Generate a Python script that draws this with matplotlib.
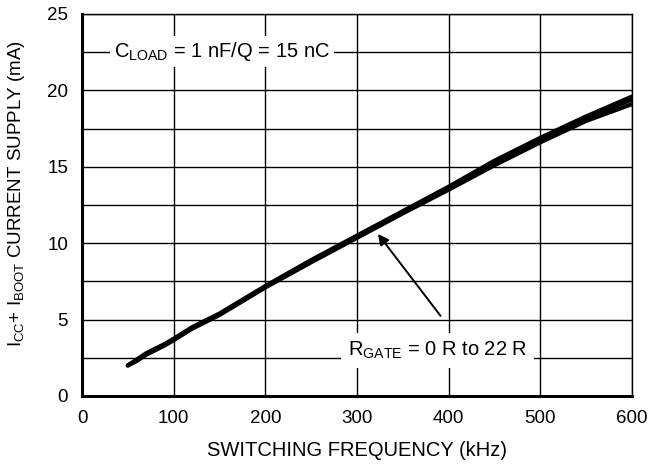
import matplotlib
matplotlib.use("Agg")
import matplotlib.pyplot as plt

plt.rcParams['font.family'] = ['Liberation Sans', 'DejaVu Sans']
plt.rcParams['mathtext.fontset'] = 'custom'
plt.rcParams['mathtext.rm'] = 'Liberation Sans'
plt.rcParams['mathtext.it'] = 'Liberation Sans'

freq = [50, 60, 70, 80, 90, 100, 120, 150, 200, 250, 300, 350, 400, 450, 500, 550, 600]
r0 = [2.0, 2.4, 2.8, 3.1, 3.4, 3.75, 4.5, 5.4, 7.2, 8.9, 10.5, 12.1, 13.7, 15.4, 16.9, 18.3, 19.6]
r10 = [2.0, 2.35, 2.75, 3.05, 3.35, 3.7, 4.45, 5.35, 7.15, 8.8, 10.45, 12.0, 13.6, 15.2, 16.7, 18.2, 19.4]
r22 = [2.0, 2.3, 2.7, 3.0, 3.3, 3.65, 4.4, 5.3, 7.1, 8.75, 10.35, 11.95, 13.5, 15.1, 16.6, 18.0, 19.1]

xticks = [0, 100, 200, 300, 400, 500, 600]
yticks = [0, 5, 10, 15, 20, 25]

fig = plt.figure(figsize=(6.51, 4.70), dpi=100)
ax = fig.add_axes([82/651, 1-396/470, 550/651, 382/470])

for s in (r0, r10, r22):
    ax.plot(freq, s, color='black', lw=3.0, solid_capstyle='round', zorder=3)

ax.set_xlim(0, 600)
ax.set_ylim(0, 25)
ax.set_xticks(xticks)
ax.set_yticks(yticks)
ax.set_yticks([2.5, 7.5, 12.5, 17.5, 22.5], minor=True)
ax.grid(True, which='both', color='black', lw=1.0)
ax.tick_params(length=0, which='both', labelsize=13.5, pad=10)

for side in ('left', 'bottom'):
    ax.spines[side].set_linewidth(2.2)
for side in ('top', 'right'):
    ax.spines[side].set_linewidth(1.0)

ax.set_xlabel('SWITCHING FREQUENCY (kHz)', fontsize=14.5)
ax.set_ylabel(r'I$_{\mathrm{CC}}$+ I$_{\mathrm{BOOT}}$ CURRENT SUPPLY (mA)', fontsize=13.5)
ax.xaxis.set_label_coords(0.5, -45/382)
ax.yaxis.set_label_coords(-55/550, 0.53)

ax.text(153, 22.55, r'C$_{\mathrm{LOAD}}$ = 1 nF/Q = 15 nC', fontsize=14.5, ha='center', va='center',
        bbox=dict(facecolor='white', edgecolor='none', pad=3), zorder=4)
ax.text(388, 3.0, r'R$_{\mathrm{GATE}}$ = 0 R to 22 R', fontsize=14.5, ha='center', va='center',
        bbox=dict(facecolor='white', edgecolor='none', pad=5), zorder=4)
ax.annotate('', xy=(321, 10.75), xytext=(393, 5.1),
            arrowprops=dict(arrowstyle='-|>', color='black', lw=1.4, mutation_scale=16), zorder=5)

fig.savefig('out.png', dpi=100)
